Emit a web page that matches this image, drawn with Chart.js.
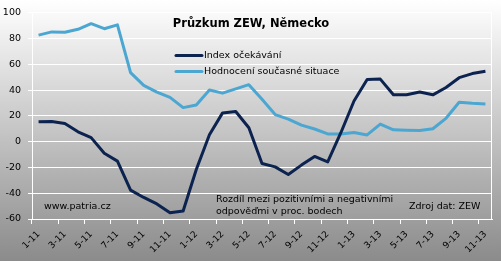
<!DOCTYPE html>
<html>
<head>
<meta charset="utf-8">
<script src="https://cdn.jsdelivr.net/npm/chart.js@4"></script>
<style>
  html, body { margin: 0; padding: 0; }
  body {
    width: 501px; height: 261px; overflow: hidden;
    background: linear-gradient(#ffffff, #f6f6f6 8%, #8b8b8b);
  }
  canvas { display: block; }
</style>
</head>
<body>
<canvas id="zew" width="501" height="261"></canvas>
<script>
const months = [
  '1-11', '2-11', '3-11', '4-11', '5-11', '6-11', '7-11', '8-11', '9-11', '10-11', '11-11', '12-11',
  '1-12', '2-12', '3-12', '4-12', '5-12', '6-12', '7-12', '8-12', '9-12', '10-12', '11-12', '12-12',
  '1-13', '2-13', '3-13', '4-13', '5-13', '6-13', '7-13', '8-13', '9-13', '10-13', '11-13'
];

// Index očekávání
const expectations = [
  15.4, 15.7, 14.1, 7.6, 3.1, -9.0, -15.1, -37.6, -43.3, -48.3, -55.2, -53.8,
  -21.6, 5.4, 22.3, 23.4, 10.8, -16.9, -19.6, -25.5, -18.2, -11.5, -15.7, 6.9,
  31.5, 48.2, 48.5, 36.3, 36.4, 38.5, 36.3, 42.0, 49.6, 52.8, 54.6
];

// Hodnocení současné situace
const situation = [
  82.6, 85.1, 84.9, 87.1, 91.5, 87.6, 90.6, 53.5, 43.6, 38.4, 34.3, 26.4,
  28.4, 40.1, 37.6, 40.9, 44.2, 32.8, 21.0, 17.5, 12.8, 9.8, 6.0, 6.0,
  7.1, 5.2, 13.6, 9.2, 8.9, 8.6, 10.0, 18.1, 30.6, 29.7, 29.2
];

const titleText = 'Průzkum ZEW, Německo';
const noteSite = 'www.patria.cz';
const noteLines = ['Rozdíl mezi pozitivními a negativními', 'odpověďmi v proc. bodech'];
const noteSource = 'Zdroj dat: ZEW';

Chart.defaults.font.family = "'DejaVu Sans', sans-serif";
Chart.defaults.font.size = 9.5;
Chart.defaults.color = '#000';

// title, legend and notes sit inside the plot area, so draw them by hand
const overlay = {
  id: 'overlay',
  afterDraw(chart) {
    const { ctx, chartArea: a } = chart;
    ctx.save();
    ctx.strokeStyle = '#fff';
    ctx.lineWidth = 1;
    ctx.beginPath();
    ctx.moveTo(a.right - 0.5, a.top);
    ctx.lineTo(a.right - 0.5, a.bottom);
    ctx.stroke();

    ctx.fillStyle = '#000';
    ctx.textBaseline = 'middle';
    ctx.textAlign = 'center';
    ctx.font = "bold 11.5px 'DejaVu Sans'";
    ctx.fillText(titleText, 251, 24);

    ctx.textAlign = 'left';
    ctx.font = "9.5px 'DejaVu Sans'";
    chart.data.datasets.forEach((ds, i) => {
      const y = 55.5 + i * 16;
      ctx.strokeStyle = ds.borderColor;
      ctx.lineWidth = 3;
      ctx.lineCap = 'round';
      ctx.beginPath();
      ctx.moveTo(176, y);
      ctx.lineTo(202, y);
      ctx.stroke();
      ctx.fillText(ds.label, 204, y);
    });

    ctx.fillText(noteSite, 44, 207);
    ctx.fillText(noteLines[0], 216, 200);
    ctx.fillText(noteLines[1], 216, 211.5);
    ctx.fillText(noteSource, 409, 207);
    ctx.restore();
  }
};

new Chart(document.getElementById('zew'), {
  type: 'line',
  data: {
    labels: months,
    datasets: [
      {
        label: 'Index očekávání',
        data: expectations,
        borderColor: '#0c2350',
        borderWidth: 3,
        borderJoinStyle: 'round',
        pointRadius: 0,
        tension: 0,
        fill: false
      },
      {
        label: 'Hodnocení současné situace',
        data: situation,
        borderColor: '#4ba7d1',
        borderWidth: 3,
        borderJoinStyle: 'round',
        pointRadius: 0,
        tension: 0,
        fill: false
      }
    ]
  },
  options: {
    responsive: false,
    animation: false,
    layout: {
      padding: { top: 11.3, right: 9, left: 0, bottom: 0 }
    },
    plugins: {
      legend: { display: false },
      title: { display: false },
      tooltip: { enabled: false }
    },
    scales: {
      x: {
        offset: true,
        grid: {
          offset: true,
          drawOnChartArea: false,
          tickLength: 5,
          color: (ctx) => ctx.index % 2 === 0 ? '#ffffff' : 'rgba(0,0,0,0)'
        },
        border: { color: '#ffffff', width: 1 },
        ticks: {
          autoSkip: false,
          minRotation: 45,
          maxRotation: 45,
          padding: 5,
          font: { size: 9 },
          callback: function (val, i) {
            return i % 2 === 0 ? this.getLabelForValue(val) : '';
          }
        },
        afterFit: (scale) => { scale.height = 42; }
      },
      y: {
        min: -60,
        max: 100,
        ticks: { stepSize: 20, padding: 7 },
        grid: { color: '#ffffff', lineWidth: 1, tickLength: 4 },
        border: { color: '#ffffff', width: 1 },
        afterFit: (scale) => { scale.width = 32; }
      }
    }
  },
  plugins: [overlay]
});
</script>
</body>
</html>
